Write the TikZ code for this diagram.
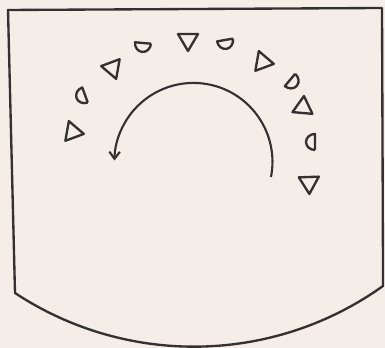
\documentclass[tikz,border=0pt]{standalone}
\usepackage{tikz}
\usetikzlibrary{arrows.meta}
\definecolor{sketchInk}{HTML}{353131}
\definecolor{sketchPaper}{HTML}{F4EDE8}
\tikzset{
    >=Latex,
    outline/.style={draw=sketchInk, line width=2pt, line join=round},
    marker/.style={draw=sketchInk, line width=2pt, line join=round},
    turnarrow/.style={-{Straight Barb[length=6pt, width=9pt]}, draw=sketchInk, line width=1.8pt},
    tri/.pic={\draw[marker] (11,0) -- (-6,10) -- (-6,-10) -- cycle;},
    halfdisc/.pic={\draw[marker] (0,8) -- (0,-8) arc[start angle=-90, end angle=90, x radius=9, y radius=8];}
}

\begin{document}
\begin{tikzpicture}[x=0.03cm, y=0.03cm]
\useasboundingbox (0,0) rectangle (385,348);
\fill[sketchPaper] (0,0) rectangle (385,348);
% card outline with curved bottom
\draw[outline] (15,55) arc[start angle=236.6, end angle=305.6, radius=325] -- (382,340) -- (8,338) -- cycle;
% ring of markers
\pic[rotate=-10] at (73,216) {tri};
\pic[rotate=200] at (85,253) {halfdisc};
\pic[rotate=170] at (112,280) {tri};
\pic[rotate=-95] at (143,305) {halfdisc};
\pic[rotate=-90] at (188,308) {tri};
\pic[rotate=-80] at (225,308) {halfdisc};
\pic[rotate=-10] at (263,286) {tri};
\pic[rotate=-40] at (290,268) {halfdisc};
\pic[rotate=85] at (303,241) {tri};
\pic[rotate=180] at (315,206) {halfdisc};
\pic[rotate=-88] at (309,165) {tri};
% turning arrow
\coordinate (turnstart) at (271,171);
\draw[turnarrow] (turnstart) arc[start angle=-11, end angle=179, radius=79];
\end{tikzpicture}
\end{document}
